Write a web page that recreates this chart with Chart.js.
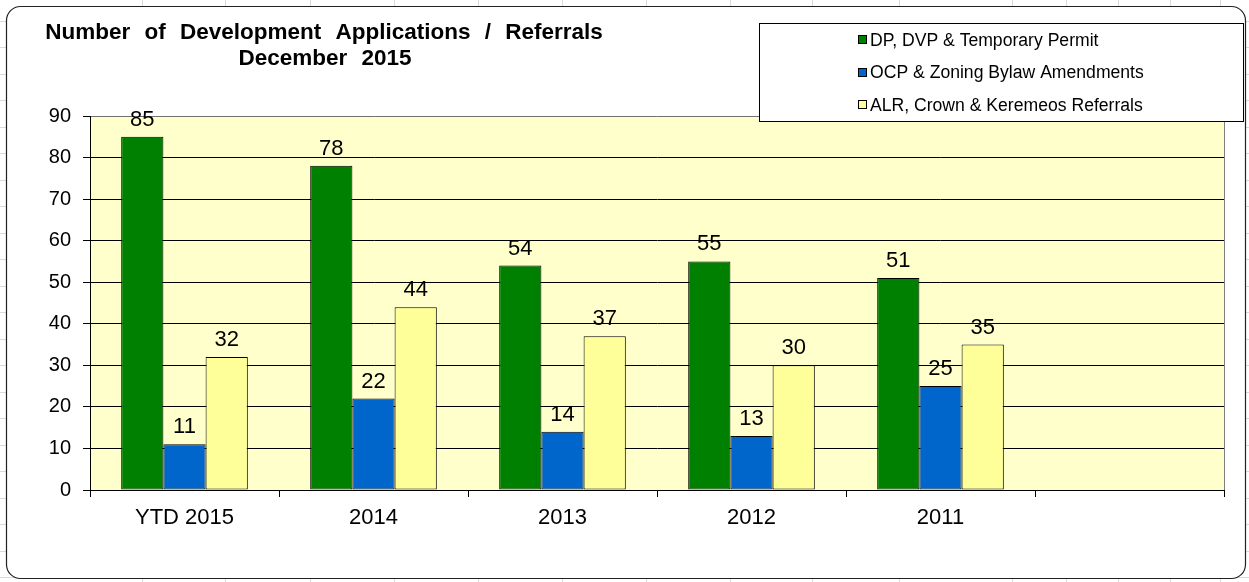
<!DOCTYPE html>
<html>
<head>
<meta charset="utf-8">
<title>Development Applications</title>
<script src="https://cdn.jsdelivr.net/npm/chart.js@4.4.1/dist/chart.umd.min.js"></script>
<style>
  html, body { margin: 0; padding: 0; background: #fff; }
  #wrap { width: 1249px; height: 582px; position: relative; }
</style>
</head>
<body>
<div id="wrap"><canvas id="myChart"></canvas></div>
<script>
const categories = ["YTD 2015", "2014", "2013", "2012", "2011", ""];
const dpPermits = [85, 78, 54, 55, 51, null];
const ocpAmendments = [11, 22, 14, 13, 25, null];
const alrReferrals = [32, 44, 37, 30, 35, null];
const yTicks = [0, 10, 20, 30, 40, 50, 60, 70, 80, 90];
const seriesNames = [
  "DP, DVP & Temporary Permit",
  "OCP & Zoning Bylaw Amendments",
  "ALR, Crown & Keremeos Referrals",
];
const titleLines = ["Number of Development Applications / Referrals", "December 2015"];

const FONT = "'Liberation Sans', Arial, sans-serif";

// spreadsheet cells behind the chart, rounded chart frame, plot background
const backdrop = {
  id: "backdrop",
  beforeDraw(chart) {
    const ctx = chart.ctx;
    const w = chart.width, h = chart.height;
    ctx.save();
    ctx.fillStyle = "#fff";
    ctx.fillRect(0, 0, w, h);
    ctx.strokeStyle = "#dadada";
    ctx.lineWidth = 1;
    [142, 225, 310, 394, 478, 562, 646, 730, 812, 899, 1012, 1066, 1118, 1170, 1220].forEach((x) => {
      ctx.beginPath(); ctx.moveTo(x + 0.5, 0); ctx.lineTo(x + 0.5, h); ctx.stroke();
    });
    for (let y = 20.5; y < h; y += 26.5) {
      ctx.beginPath(); ctx.moveTo(0, Math.round(y) + 0.5); ctx.lineTo(w, Math.round(y) + 0.5); ctx.stroke();
    }
    // chart frame
    const x0 = 6.5, y0 = 6.5, x1 = 1245.5, y1 = 578.5, r = 14;
    ctx.beginPath();
    ctx.moveTo(x0 + r, y0);
    ctx.lineTo(x1 - r, y0);
    ctx.arcTo(x1, y0, x1, y0 + r, r);
    ctx.lineTo(x1, y1 - r);
    ctx.arcTo(x1, y1, x1 - r, y1, r);
    ctx.lineTo(x0 + r, y1);
    ctx.arcTo(x0, y1, x0, y1 - r, r);
    ctx.lineTo(x0, y0 + r);
    ctx.arcTo(x0, y0, x0 + r, y0, r);
    ctx.closePath();
    ctx.fillStyle = "#fff";
    ctx.fill();
    ctx.strokeStyle = "#222";
    ctx.lineWidth = 1.2;
    ctx.stroke();
    // plot area
    const a = chart.chartArea;
    ctx.fillStyle = "#FFFFCC";
    ctx.fillRect(a.left, a.top, a.right - a.left, a.bottom - a.top);
    ctx.strokeStyle = "#808080";
    ctx.lineWidth = 1;
    ctx.beginPath();
    ctx.moveTo(Math.round(a.right) + 0.5, a.top);
    ctx.lineTo(Math.round(a.right) + 0.5, a.bottom);
    ctx.stroke();
    ctx.restore();
  },
};

const valueLabels = {
  id: "valueLabels",
  afterDatasetsDraw(chart) {
    const ctx = chart.ctx;
    ctx.save();
    ctx.font = "22px " + FONT;
    ctx.fillStyle = "#000";
    ctx.textAlign = "center";
    ctx.textBaseline = "alphabetic";
    chart.data.datasets.forEach((ds, i) => {
      chart.getDatasetMeta(i).data.forEach((bar, j) => {
        const v = ds.data[j];
        if (v == null) return;
        ctx.fillText(String(v), bar.x, bar.y - 11);
      });
    });
    ctx.restore();
  },
};

const titleAndLegend = {
  id: "titleAndLegend",
  afterDraw(chart) {
    const ctx = chart.ctx;
    ctx.save();
    ctx.fillStyle = "#000";
    ctx.textAlign = "center";
    ctx.textBaseline = "alphabetic";
    ctx.font = "bold 22.5px " + FONT;
    if ("wordSpacing" in ctx) ctx.wordSpacing = "8px";
    ctx.fillText(titleLines[0], 324, 39);
    ctx.fillText(titleLines[1], 325, 65);
    if ("wordSpacing" in ctx) ctx.wordSpacing = "0px";

    // legend box
    const bx = 759.5, by = 23.5, bw = 484, bh = 98;
    ctx.fillStyle = "#fff";
    ctx.fillRect(bx, by, bw, bh);
    ctx.strokeStyle = "#000";
    ctx.lineWidth = 1;
    ctx.strokeRect(bx, by, bw, bh);
    ctx.font = "17.6px " + FONT;
    ctx.textAlign = "left";
    ctx.textBaseline = "middle";
    const rows = [40, 72.5, 105];
    chart.data.datasets.forEach((ds, i) => {
      const y = rows[i];
      ctx.fillStyle = ds.backgroundColor;
      ctx.fillRect(858.5, Math.round(y) - 4.5, 8, 8);
      ctx.strokeStyle = "#000";
      ctx.strokeRect(858.5, Math.round(y) - 4.5, 8, 8);
      ctx.fillStyle = "#000";
      ctx.fillText(ds.label, 870, y + 1);
    });
    ctx.restore();
  },
};

const colors = ["#008000", "#0066CC", "#FFFF99"];
const series = [dpPermits, ocpAmendments, alrReferrals];

new Chart(document.getElementById("myChart"), {
  type: "bar",
  data: {
    labels: categories,
    datasets: series.map((d, i) => ({
      label: seriesNames[i],
      data: d,
      backgroundColor: colors[i],
      borderColor: "#000",
      borderWidth: 1,
      borderSkipped: false,
      categoryPercentage: 0.67,
      barPercentage: 1.0,
    })),
  },
  options: {
    responsive: true,
    maintainAspectRatio: false,
    animation: false,
    events: [],
    layout: { padding: { top: 116, right: 25, bottom: 42, left: 0 } },
    plugins: {
      legend: { display: false },
      title: { display: false },
      tooltip: { enabled: false },
    },
    scales: {
      x: {
        afterFit(scale) { scale.height = 50; },
        border: { color: "#000", width: 1 },
        grid: {
          offset: true,
          drawOnChartArea: false,
          drawTicks: true,
          tickLength: 7,
          tickColor: "#000",
        },
        ticks: { color: "#000", font: { family: FONT, size: 22 }, padding: 8 },
      },
      y: {
        min: 0,
        max: 90,
        afterFit(scale) { scale.width = 90; },
        afterBuildTicks(scale) { scale.ticks = yTicks.map((v) => ({ value: v })); },
        border: { color: "#000", width: 1 },
        grid: {
          color: (c) => (c.tick && c.tick.value === 90 ? "#707070" : "#000"),
          lineWidth: 1,
          tickLength: 7,
          tickColor: "#000",
        },
        ticks: { color: "#000", font: { family: FONT, size: 20 }, padding: 12 },
      },
    },
  },
  plugins: [backdrop, valueLabels, titleAndLegend],
});
</script>
</body>
</html>
